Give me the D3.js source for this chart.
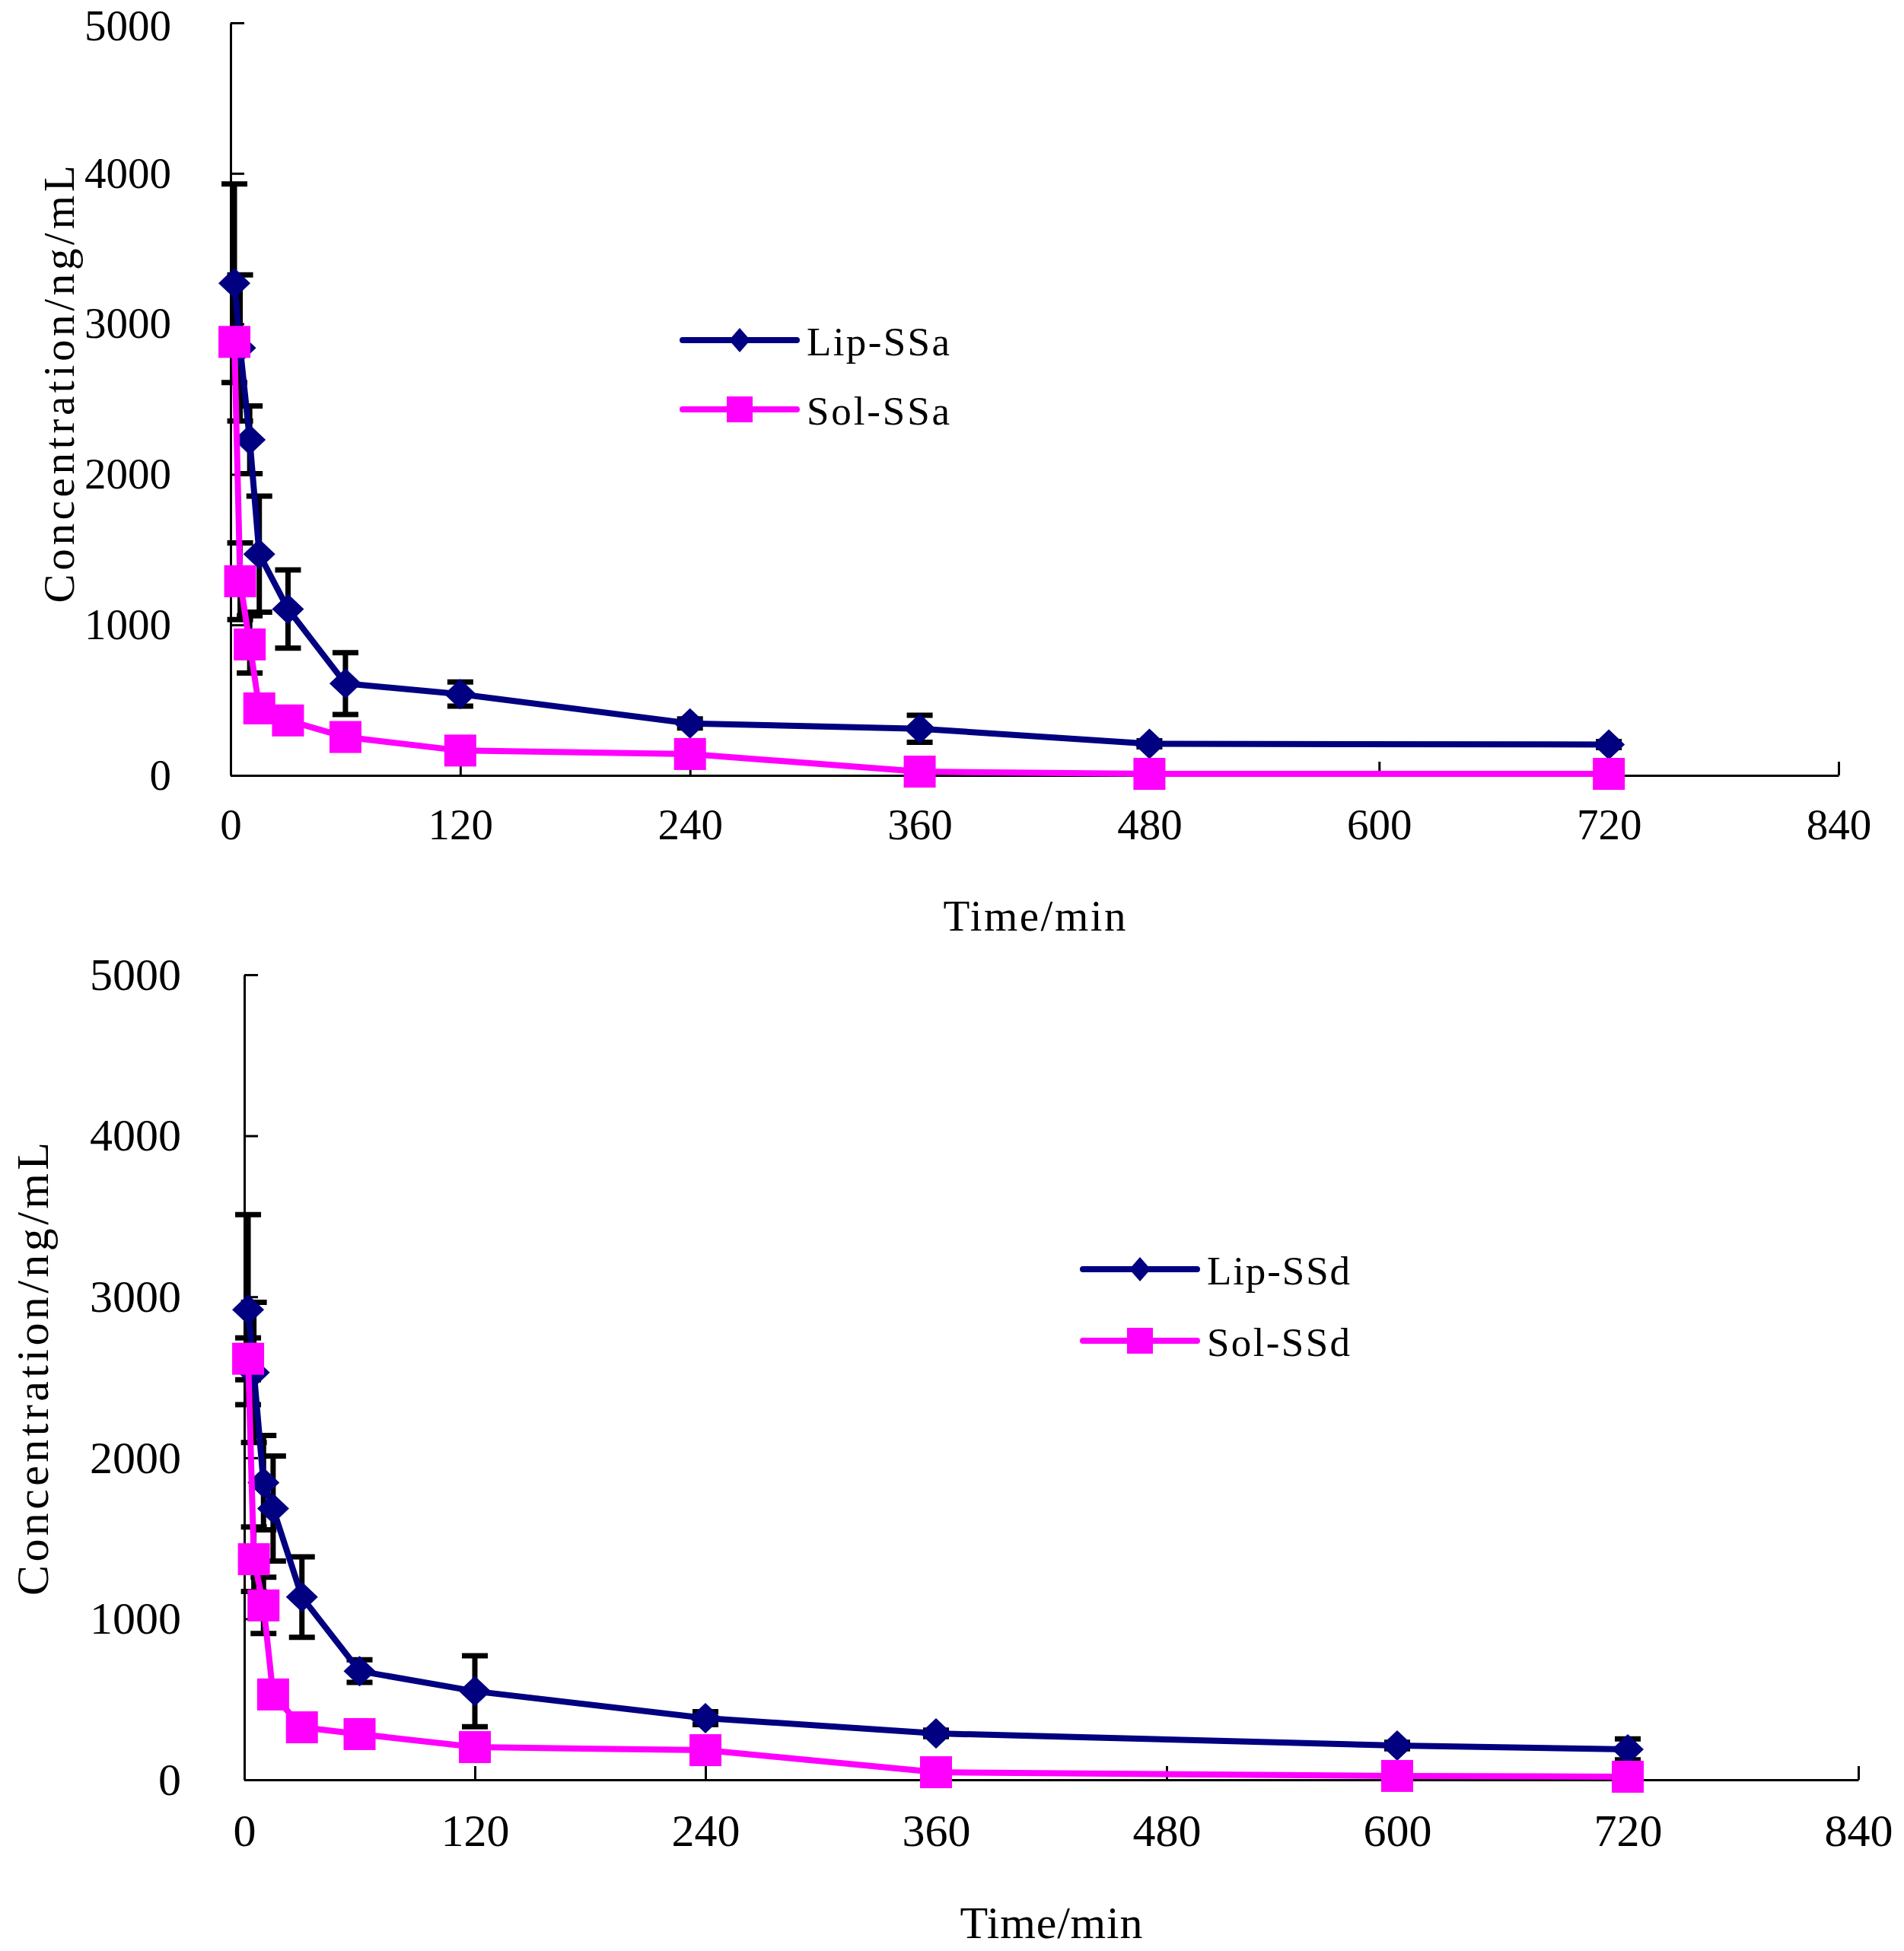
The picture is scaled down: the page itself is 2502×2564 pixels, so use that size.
<!DOCTYPE html>
<html>
<head>
<meta charset="utf-8">
<script src="https://cdn.jsdelivr.net/npm/d3@7"></script>
<style>
  body { margin: 0; background: #fff; }
  svg { display: block; }
  text { font-family: "Liberation Serif", "Times New Roman", serif; fill: #000; }
</style>
</head>
<body>
<svg id="chart" width="2502" height="2564"></svg>
<script>
// tick values
const xTicks = [0, 120, 240, 360, 480, 600, 720, 840];
const yTicks = [0, 1000, 2000, 3000, 4000, 5000];

// SSa panel
const timeA = [2, 5, 10, 15, 30, 60, 120, 240, 360, 480, 720];
const lipA = [3270, 2840, 2230, 1470, 1105, 610, 540, 345, 310, 210, 205];
const lipAErr = [660, 485, 225, 385, 260, 205, 80, 30, 90, 20, 20];
const solA = [2880, 1290, 870, 445, 365, 255, 165, 142, 25, 10, 10];
const solAErr = [60, 255, 190, 50, 40, 30, 20, 20, 10, 5, 5];

// SSd panel
const timeD = [2, 5, 10, 15, 30, 60, 120, 240, 360, 600, 720];
const lipD = [2920, 2530, 1845, 1685, 1135, 675, 550, 383, 288, 213, 189];
const lipDErr = [590, 435, 293, 326, 250, 70, 220, 40, 20, 20, 65];
const solD = [2615, 1370, 1083, 530, 326, 284, 203, 184, 47, 24, 19];
const solDErr = [130, 200, 175, 60, 40, 30, 20, 20, 10, 10, 10];

const NAVY = '#000080';
const MAGENTA = '#ff00ff';

const svg = d3.select('#chart');

function diamond(w, h) {
  return `M0,${-h}L${w},0L0,${h}L${-w},0Z`;
}

function drawPanel(p) {
  const x = d3.scaleLinear().domain([0, 840]).range([p.left, p.right]);
  const y = d3.scaleLinear().domain([0, 5000]).range([p.bottom, p.top]);
  const g = svg.append('g');

  // axes, ticks pointing inward
  const xAxis = d3.axisBottom(x).tickValues(xTicks).tickFormat(d3.format('d'))
    .tickSize(-18).tickSizeOuter(0).tickPadding(p.xPad);
  const yAxis = d3.axisLeft(y).tickValues(yTicks).tickFormat(d3.format('d'))
    .tickSize(-18).tickSizeOuter(0).tickPadding(p.yPad);

  const gx = g.append('g').attr('transform', `translate(0,${p.bottom})`).call(xAxis);
  const gy = g.append('g').attr('transform', `translate(${p.left},0)`).call(yAxis);
  [gx, gy].forEach(a => {
    a.select('.domain').attr('stroke', '#000').attr('stroke-width', 3);
    a.selectAll('.tick line').attr('stroke', '#000').attr('stroke-width', 3);
    a.selectAll('.tick text').attr('font-size', p.fs).attr('font-family', null);
  });
  // keep the top label inside the page
  gy.selectAll('.tick text').filter(d => d === 5000).attr('dy', p.topDy);

  // axis titles
  g.append('text')
    .attr('x', (p.left + p.right) / 2)
    .attr('y', p.xTitleY)
    .attr('text-anchor', 'middle')
    .attr('font-size', p.fs)
    .attr('textLength', 240)
    .text('Time/min');

  g.append('text')
    .attr('transform', `translate(${p.yTitleX},${p.yTitleY}) rotate(-90)`)
    .attr('text-anchor', 'middle')
    .attr('font-size', p.fs)
    .attr('textLength', p.yTitleLen)
    .text('Concentration/ng/mL');

  const series = [
    { vals: p.lip, errs: p.lipErr, color: NAVY, kind: 'diamond', name: p.names[0] },
    { vals: p.sol, errs: p.solErr, color: MAGENTA, kind: 'square', name: p.names[1] }
  ];

  // error bars underneath everything
  series.forEach(s => {
    const eb = g.append('g').attr('stroke', '#000').attr('stroke-width', 7);
    p.time.forEach((t, i) => {
      const cx = x(t);
      const y1 = y(s.vals[i] + s.errs[i]);
      const y0 = y(Math.max(0, s.vals[i] - s.errs[i]));
      eb.append('line').attr('x1', cx).attr('x2', cx).attr('y1', y1).attr('y2', y0);
      eb.append('line').attr('x1', cx - 17).attr('x2', cx + 17).attr('y1', y1).attr('y2', y1);
      eb.append('line').attr('x1', cx - 17).attr('x2', cx + 17).attr('y1', y0).attr('y2', y0);
    });
  });

  const line = d3.line().x(d => x(d[0])).y(d => y(d[1]));

  series.forEach(s => {
    const pts = p.time.map((t, i) => [t, s.vals[i]]);
    g.append('path')
      .attr('d', line(pts))
      .attr('fill', 'none')
      .attr('stroke', s.color)
      .attr('stroke-width', 8)
      .attr('stroke-linejoin', 'round');
    const m = g.append('g').attr('fill', s.color);
    pts.forEach(d => {
      if (s.kind === 'diamond') {
        m.append('path').attr('d', diamond(21, 20))
          .attr('transform', `translate(${x(d[0])},${y(d[1])})`);
      } else {
        m.append('rect').attr('x', x(d[0]) - 21).attr('y', y(d[1]) - 21)
          .attr('width', 42).attr('height', 42);
      }
    });
  });

  // legend
  series.forEach((s, i) => {
    const ly = p.legY + i * p.legGap;
    const lg = g.append('g');
    lg.append('line')
      .attr('x1', p.legX).attr('x2', p.legX + 150)
      .attr('y1', ly).attr('y2', ly)
      .attr('stroke', s.color).attr('stroke-width', 8).attr('stroke-linecap', 'round');
    if (s.kind === 'diamond') {
      lg.append('path').attr('d', diamond(14, 16)).attr('fill', s.color)
        .attr('transform', `translate(${p.legX + 75},${ly})`);
    } else {
      lg.append('rect').attr('x', p.legX + 75 - 17).attr('y', ly - 17)
        .attr('width', 34).attr('height', 34).attr('fill', s.color);
    }
    lg.append('text')
      .attr('x', p.legX + 163)
      .attr('y', ly + 20)
      .attr('font-size', 53)
      .attr('textLength', 188)
      .text(s.name);
  });
}

drawPanel({
  left: 303, right: 2416, top: 30, bottom: 1019,
  time: timeA, lip: lipA, lipErr: lipAErr, sol: solA, solErr: solAErr,
  names: ['Lip-SSa', 'Sol-SSa'],
  fs: 57, xPad: 44, yPad: 78, topDy: '0.4em',
  xTitleY: 1223, yTitleX: 97, yTitleY: 505, yTitleLen: 575,
  legX: 897, legY: 447, legGap: 91
});

drawPanel({
  left: 321, right: 2442, top: 1281, bottom: 2339,
  time: timeD, lip: lipD, lipErr: lipDErr, sol: solD, solErr: solDErr,
  names: ['Lip-SSd', 'Sol-SSd'],
  fs: 60, xPad: 44, yPad: 83, topDy: '0.32em',
  xTitleY: 2547, yTitleX: 63, yTitleY: 1799, yTitleLen: 596,
  legX: 1423, legY: 1668, legGap: 94
});
</script>
</body>
</html>
